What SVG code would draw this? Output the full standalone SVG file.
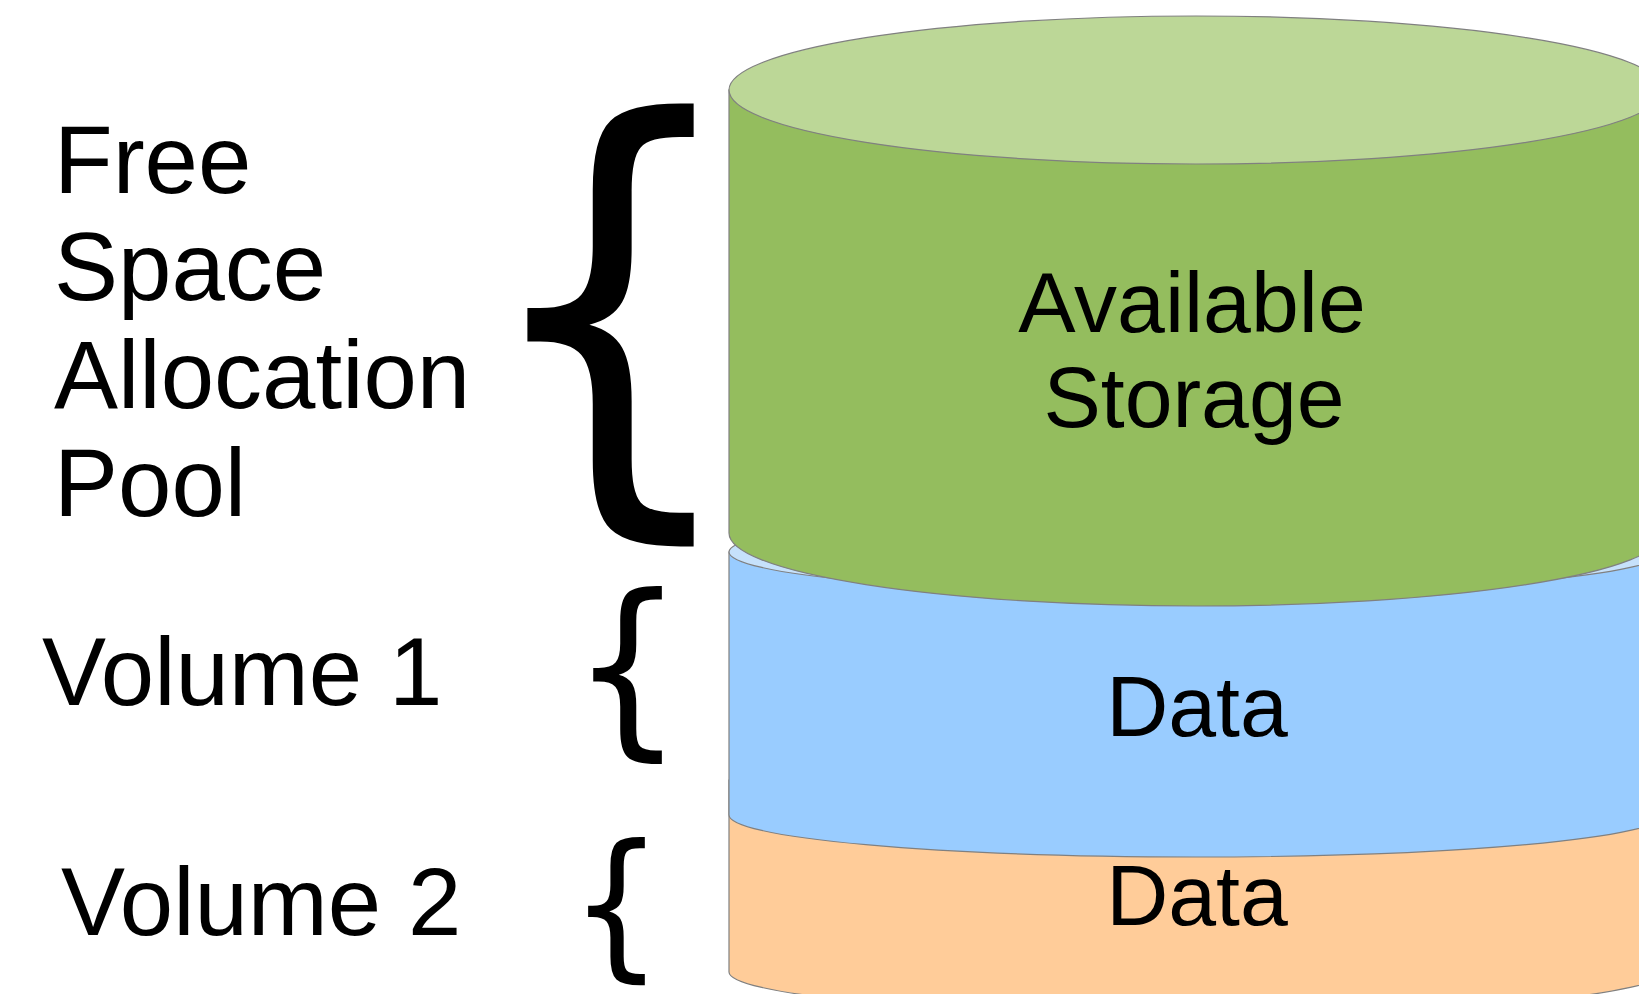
<svg xmlns="http://www.w3.org/2000/svg" width="1639" height="994" viewBox="0 0 1639 994">
<style>
.lbl{font-family:"Liberation Sans",Arial,sans-serif;font-size:96px;fill:#000}
.cl{font-family:"Liberation Sans",Arial,sans-serif;font-size:86px;fill:#000;text-anchor:middle}
.br{font-family:"DejaVu Sans",sans-serif;font-size:100px;fill:#000}
.edge{stroke:#808080;stroke-width:1.2}
</style>
<rect width="1639" height="994" fill="#fff"/>
<g id="volume2">
<path class="edge" d="M729,780 V972 A467,42 0 0 0 1663,972 V780 Z" fill="#ffcc99"/>
<text class="cl" x="1197" y="925">Data</text>
</g>
<g id="volume1">
<path class="edge" d="M729,552 V815 A467,42 0 0 0 1663,815 V552 Z" fill="#99ccff"/>
<ellipse class="edge" cx="1196" cy="552" rx="467" ry="42" fill="#c6e1fb"/>
<text class="cl" x="1197" y="736">Data</text>
</g>
<g id="pool">
<path class="edge" d="M729,90 V533 A467,73 0 0 0 1663,533 V90 Z" fill="#94bd5e"/>
<ellipse class="edge" cx="1196" cy="90" rx="467" ry="74" fill="#bcd797"/>
<text class="cl" x="1192" y="332">Available</text>
<text class="cl" x="1194" y="427">Storage</text>
</g>
<g id="label-pool">
<text class="lbl" x="54" y="193">Free</text>
<text class="lbl" x="54" y="300">Space</text>
<text class="lbl" x="54" y="408">Allocation</text>
<text class="lbl" x="54" y="516">Pool</text>
<text class="br" transform="translate(473.6,468.2) scale(4.304,4.799)">{</text>
</g>
<g id="label-volume1">
<text class="lbl" x="42" y="705">Volume 1</text>
<text class="br" transform="translate(571,733.1) scale(1.778,1.933)">{</text>
</g>
<g id="label-volume2">
<text class="lbl" x="61" y="935">Volume 2</text>
<text class="br" transform="translate(569.8,959.3) scale(1.469,1.607)">{</text>
</g>
<g id="connectors"></g>
</svg>
